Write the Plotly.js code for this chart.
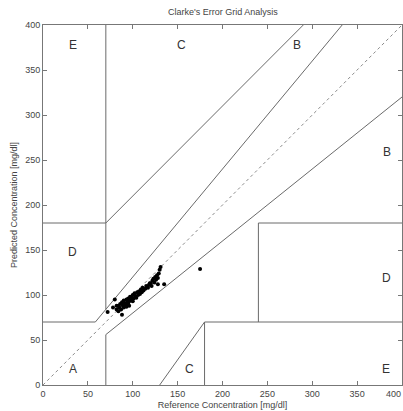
<!DOCTYPE html>
<html>
<head>
<meta charset="utf-8">
<script src="https://cdn.plot.ly/plotly-3.0.1.min.js"></script>
<style>html,body{margin:0;padding:0;background:#fff;}#chart{width:403px;height:411px;}</style>
</head>
<body>
<div id="chart"></div>
<script>
// Measured glucose pairs
var refValues  = [72,80,88,78,82,84,85,86,87,88,89,90,90,91,92,93,93,94,95,95,96,97,98,99,100,100,101,102,103,104,105,106,107,108,109,110,111,112,114,115,117,118,119,120,121,122,123,124,125,126,127,128,129,130,131,128,135,175,82,84,96];
var predValues = [81,95,78,86,84,88,86,90,84,92,88,86,94,91,89,95,87,92,96,90,93,98,94,97,100,93,96,102,99,97,103,100,104,101,106,103,108,105,107,110,108,111,113,113,110,116,118,114,120,117,122,119,124,128,131,112,112,129,88,82,88];

// Zone boundary segments (Clarke grid), null separates segments
var zoneX = [0,175/3,null, 175/3,400/1.2,null, 70,70,null, 0,70,null, 70,290,null, 70,70,null, 70,400,null, 180,180,null, 180,400,null, 240,240,null, 240,400,null, 130,180];
var zoneY = [70,70,null, 70,400,null, 84,400,null, 180,180,null, 180,400,null, 0,56,null, 56,320,null, 0,70,null, 70,70,null, 70,180,null, 180,180,null, 0,70];
var diagX = [0,400];
var diagY = [0,400];

// Zone labels
var zoneLabels = ['E','C','B','B','D','D','A','C','E'];
var labelX = [33,154,283,383,33,383,33,163,382];
var labelY = [378,378,378,259,148,119,18,18,18];

// Last x tick label (kept inside the canvas)
var lastXTick = 400;

var traces = [
  {x: diagX, y: diagY, mode:'lines', line:{color:'#8a8a8a', width:1, dash:'3px,3px'}, hoverinfo:'skip'},
  {x: zoneX, y: zoneY, mode:'lines', line:{color:'#6a6a6a', width:1}, connectgaps:false, hoverinfo:'skip'},
  {x: refValues, y: predValues, mode:'markers', marker:{color:'#000', size:4}}
];

var annotations = zoneLabels.map(function(t,i){
  return {x: labelX[i], y: labelY[i], text: t, showarrow:false, xref:'x', yref:'y',
          font:{size:12, color:'#333', family:'Liberation Sans, Arial, sans-serif'}};
});
annotations.push({x: lastXTick, y: 0, xref:'x', yref:'paper', text: String(lastXTick), showarrow:false,
  xanchor:'right', xshift:1, yanchor:'top', yshift:-2, font:{size:9, color:'#444'}});

var axisCommon = {
  range:[0,400], dtick:50, tick0:0, ticks:'inside', ticklen:4, tickcolor:'#777',
  showline:true, linecolor:'#777', linewidth:1, mirror:'ticks', showgrid:false, zeroline:false,
  tickfont:{size:9, color:'#444'}, fixedrange:true
};

var layout = {
  width:403, height:411,
  margin:{l:43, r:1, t:25, b:26},
  paper_bgcolor:'#fff', plot_bgcolor:'#fff',
  showlegend:false,
  font:{family:'Liberation Sans, Arial, sans-serif', color:'#444'},
  title:{text:"Clarke's Error Grid Analysis", font:{size:9, color:'#444'}, x:0.553, xanchor:'center', y:0.972, yanchor:'middle'},
  xaxis: Object.assign({}, axisCommon, {title:{text:'Reference Concentration [mg/dl]', font:{size:9, color:'#444'}, standoff:3}}),
  yaxis: Object.assign({}, axisCommon, {title:{text:'Predicted Concentration [mg/dl]', font:{size:9, color:'#444'}, standoff:6}}),
  annotations: annotations
};

Plotly.newPlot('chart', traces, layout, {displayModeBar:false, staticPlot:true});
</script>
</body>
</html>
